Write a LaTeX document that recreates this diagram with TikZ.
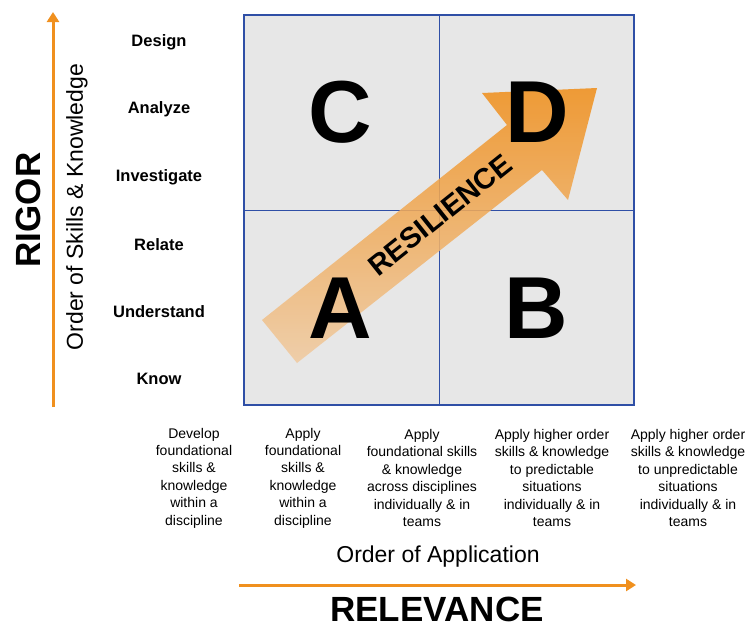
\documentclass[tikz,border=0pt]{standalone}
\usepackage{fontspec}
\setmainfont{Liberation Sans}
\usepackage{xcolor}
\usetikzlibrary{arrows.meta,calc,positioning}
\definecolor{gridblue}{HTML}{2F4FA6}
\definecolor{cellgray}{HTML}{E7E7E7}
\definecolor{rigororange}{HTML}{F0901E}
\definecolor{paleorange}{HTML}{F0CBA2}

\begin{document}
\begin{tikzpicture}[x=1pt,y=-1pt,inner sep=0pt]
\tikzstyle{quadrant}=[font=\fontsize{88}{88}\selectfont\bfseries]
\tikzstyle{level}=[font=\fontsize{16.5}{18}\selectfont\bfseries]
\tikzstyle{stage}=[align=center,font=\fontsize{14}{17.4}\selectfont]
\tikzstyle{axis}=[draw=rigororange,line width=3pt,-{Triangle[length=10pt,width=12pt]}]
\useasboundingbox (0,0) rectangle (749,627);

% the four quadrants
\node[draw=gridblue,line width=1.3pt,fill=cellgray,minimum width=390pt,minimum height=390pt] (grid) at (439,210) {};
\draw[gridblue,line width=1pt] (grid.north) -- (grid.south);
\draw[gridblue,line width=1pt] (grid.west) -- (grid.east);

% resilience arrow
\coordinate (tailtop) at (262,320);
\coordinate (tailbot) at (297,363);
\coordinate (shafttop) at (507,125);
\coordinate (shaftbot) at (542,170);
\coordinate (barbtop) at (482,93);
\coordinate (barbbot) at (568,200);
\coordinate (tip) at (597,88);
\shade[top color=rigororange,bottom color=paleorange,fill opacity=0.88]
  (tailtop) -- (shafttop) -- (barbtop) -- (tip) -- (barbbot) -- (shaftbot) -- (tailbot) -- cycle;
\node[rotate=38.6,font=\fontsize{29}{29}\selectfont\bfseries] (resilience) at (440,215) {RESILIENCE};

\node[quadrant] (qc) at (340,112) {C};
\node[quadrant] (qd) at (537,112) {D};
\node[quadrant] (qa) at (340,308) {A};
\node[quadrant] (qb) at (536,308) {B};

% rigor axis
\foreach \lvl [count=\i] in {Know,Understand,Relate,Investigate,Analyze,Design}
  \node[level] (level\i) at (159,{379-67.4*(\i-1)}) {\lvl};
\coordinate (rigorfoot) at (53,407);
\coordinate (rigortip) at (53,12);
\draw[axis] (rigorfoot) -- (rigortip);
\node[rotate=90,font=\fontsize{23}{23}\selectfont] (skills) at (77,207) {Order of Skills \& Knowledge};
\node[rotate=90,font=\fontsize{35}{35}\selectfont\bfseries] (rigor) at (28,210) {RIGOR};

% relevance axis
\node[stage] (stage1) at (194,478) {Develop\\foundational\\skills \&\\knowledge\\within a\\discipline};
\node[stage] (stage2) at (303,478) {Apply\\foundational\\skills \&\\knowledge\\within a\\discipline};
\node[stage] (stage3) at (422,478) {Apply\\foundational skills\\\& knowledge\\across disciplines\\individually \& in\\teams};
\node[stage] (stage4) at (552,478) {Apply higher order\\skills \& knowledge\\to predictable\\situations\\individually \& in\\teams};
\node[stage] (stage5) at (688,478) {Apply higher order\\skills \& knowledge\\to unpredictable\\situations\\individually \& in\\teams};
\node[font=\fontsize{23}{23}\selectfont] (application) at (438,557) {Order of Application};
\coordinate (relevancefoot) at (239,585);
\coordinate (relevancetip) at (636,585);
\draw[axis] (relevancefoot) -- (relevancetip);
\node[font=\fontsize{35}{35}\selectfont\bfseries] (relevance) at (437,609) {RELEVANCE};
\end{tikzpicture}
\end{document}
